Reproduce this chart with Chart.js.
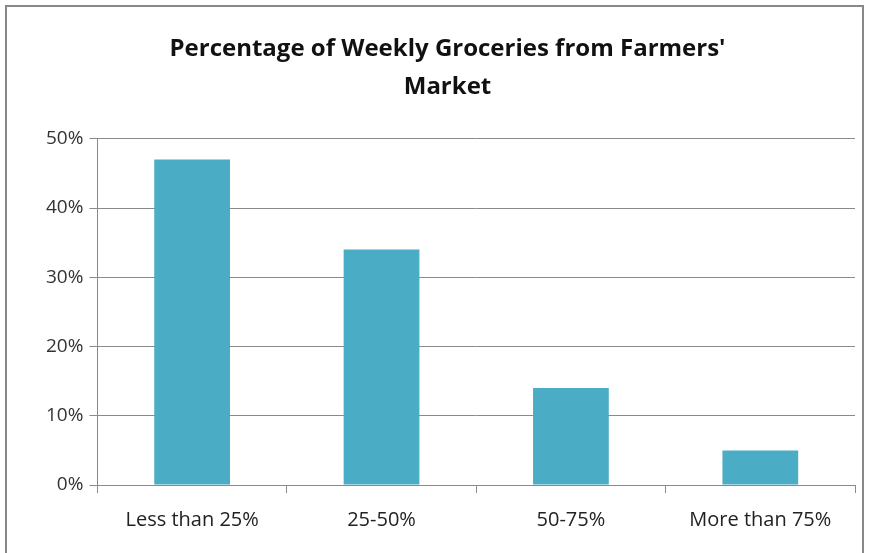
<!DOCTYPE html>
<html>
<head>
<meta charset="utf-8">
<script src="https://cdn.jsdelivr.net/npm/chart.js@4/dist/chart.umd.min.js"></script>
<style>
  html, body { margin: 0; padding: 0; background: #fff; }
  #frame {
    position: absolute; left: 5px; top: 5px; width: 859px; height: 560px;
    border: 2px solid #888; box-sizing: border-box;
  }
  #chartBox { position: absolute; left: 0; top: 0; width: 873px; height: 553px; }
</style>
</head>
<body>
<div id="frame"></div>
<div id="chartBox"><canvas id="groceryChart" width="873" height="553"></canvas></div>
<script>
const categories = ["Less than 25%", "25-50%", "50-75%", "More than 75%"];
const shareValues = [47, 34, 14, 5];
const titleLines = ["Percentage of Weekly Groceries from Farmers'", "Market"];

const ctx = document.getElementById("groceryChart").getContext("2d");

new Chart(ctx, {
  type: "bar",
  data: {
    labels: categories,
    datasets: [
      {
        data: shareValues,
        backgroundColor: "#4BACC6",
        borderWidth: 0,
        barPercentage: 0.4,
        categoryPercentage: 1,
      },
    ],
  },
  options: {
    responsive: false,
    animation: false,
    layout: { padding: { left: 40, right: 18, top: 30, bottom: 6 } },
    scales: {
      y: {
        min: 0,
        max: 50,
        ticks: {
          stepSize: 10,
          color: "#333",
          padding: 6,
          font: { size: 19, family: "'Open Sans', sans-serif" },
          callback: (v) => v + "%",
        },
        grid: { color: "#8a8a8a", lineWidth: 1, tickLength: 8 },
        border: { color: "#8a8a8a", width: 1 },
      },
      x: {
        ticks: {
          color: "#222",
          padding: 15,
          font: { size: 20, family: "'Open Sans', sans-serif" },
        },
        grid: {
          offset: true,
          drawOnChartArea: false,
          color: "#8a8a8a",
          tickLength: 8,
        },
        border: { color: "#8a8a8a", width: 1 },
      },
    },
    plugins: {
      legend: { display: false },
      tooltip: { enabled: false },
      title: {
        display: true,
        text: titleLines,
        color: "#111",
        font: { size: 24, weight: "bold", family: "'Open Sans', sans-serif", lineHeight: 1.6 },
        padding: { top: 0, bottom: 32 },
      },
    },
  },
});
</script>
</body>
</html>
